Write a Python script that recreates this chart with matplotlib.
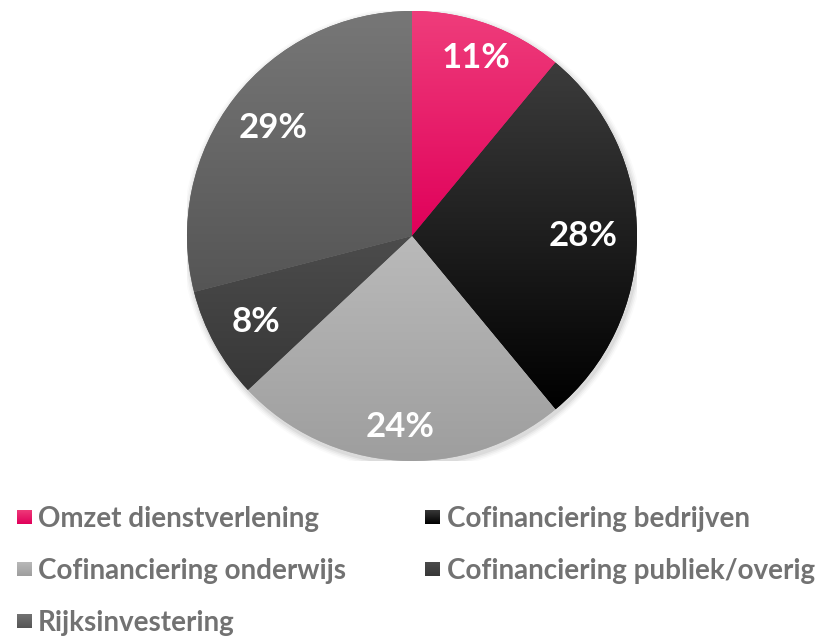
import numpy as np
import matplotlib
matplotlib.use("Agg")
import matplotlib.pyplot as plt
from matplotlib.patches import Circle
from matplotlib.colors import LinearSegmentedColormap

plt.rcParams['font.family'] = ['Lato', 'DejaVu Sans']

labels = ["Omzet dienstverlening", "Cofinanciering bedrijven", "Cofinanciering onderwijs",
          "Cofinanciering publiek/overig", "Rijksinvestering"]
values = [11, 28, 24, 8, 29]
top_colors = ["#ef3d7b", "#3c3c3c", "#bababa", "#4c4c4c", "#777777"]
bottom_colors = ["#e0005a", "#000000", "#9e9e9e", "#373737", "#555555"]
mid_colors = ["#e8145f", "#111111", "#b0b0b0", "#424242", "#666666"]

W, H = 824, 637
fig = plt.figure(figsize=(W / 100, H / 100), dpi=100)
cx, cy, R = 412, 236, 225
ax = fig.add_axes([(cx - R) / W, (H - cy - R) / H, 2 * R / W, 2 * R / H])

# soft shadow
for i, a in enumerate([0.05, 0.04, 0.03, 0.02]):
    ax.add_patch(Circle((0.006, -0.012), 1.0 + 0.007 * (i + 1), color="black",
                        alpha=a, lw=0, zorder=0))

wedges, texts, autotexts = ax.pie(
    values, colors=mid_colors, startangle=90, counterclock=False, radius=1,
    autopct=lambda p: f"{p:.0f}%", pctdistance=0.81,
    wedgeprops=dict(linewidth=0, edgecolor="none"),
    textprops=dict(color="white", fontsize=25, fontweight="bold"))

# per-label radial distance (style)
label_dist = [0.84, 0.76, 0.85, 0.79, 0.78]
for w, t, d in zip(wedges, autotexts, label_dist):
    ang = np.deg2rad((w.theta1 + w.theta2) / 2)
    t.set_position((d * np.cos(ang), d * np.sin(ang)))
    t.set_zorder(5)

for w, tc, bc in zip(wedges, top_colors, bottom_colors):
    w.set_zorder(1)
    bb = w.get_path().get_extents(w.get_patch_transform())
    cmap = LinearSegmentedColormap.from_list("g", [bc, tc])
    grad = np.linspace(0, 1, 256).reshape(-1, 1)
    im = ax.imshow(grad, cmap=cmap, origin="lower", aspect="auto",
                   extent=[bb.x0, bb.x1, bb.y0, bb.y1], zorder=2,
                   interpolation="bilinear")
    im.set_clip_path(w)

ax.set_xlim(-1, 1)
ax.set_ylim(-1, 1)
ax.set_aspect("equal")
ax.axis("off")

# manual legend, row-major in two columns
marker_x = [17, 425]
text_x = [38, 447]
row_y = [517, 569, 621]
msize = 15
for i, (lab, tc, bc) in enumerate(zip(labels, top_colors, bottom_colors)):
    r, c = divmod(i, 2)
    y = row_y[r]
    max_ = fig.add_axes([marker_x[c] / W, (H - y - msize / 2) / H, msize / W, msize / H])
    cmap = LinearSegmentedColormap.from_list("g", [bc, tc])
    max_.imshow(np.linspace(0, 1, 64).reshape(-1, 1), cmap=cmap, origin="lower",
                aspect="auto", interpolation="bilinear")
    max_.axis("off")
    fig.text(text_x[c] / W, (H - y) / H, lab, ha="left", va="center_baseline",
             fontsize=20, fontweight="bold", color="#727272")

fig.savefig("out.png", dpi=100, facecolor="white")
